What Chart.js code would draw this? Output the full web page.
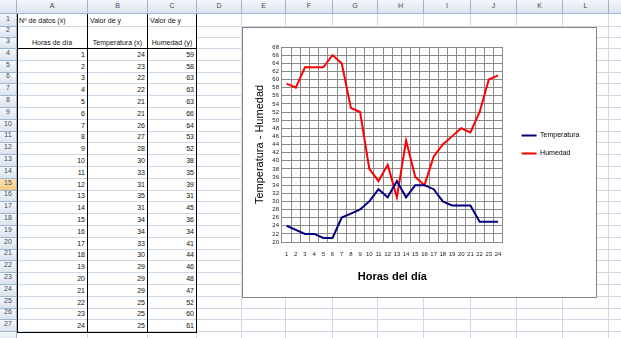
<!DOCTYPE html>
<html lang="es">
<head>
<meta charset="UTF-8">
<title>Temperatura - Humedad</title>
<script src="https://cdn.jsdelivr.net/npm/chart.js@4.4.0/dist/chart.umd.min.js"></script>
<style>
  body { margin: 0; background: #fff; font-family: "Liberation Sans", Arial, sans-serif; }
  #hoja { position: absolute; left: 0; top: 0; width: 621px; height: 338px; overflow: hidden; }
  .c { position: absolute; box-sizing: border-box; font-size: 7px; line-height: 8px; white-space: nowrap;
       border-right: 1px solid #d0d7e5; border-bottom: 1px solid #d0d7e5; color: #111; }
  .c span { position: absolute; bottom: 1px; }
  .h { background: linear-gradient(#f4f7fb, #dbe3ee); border-right: 1px solid #9eb6ce; border-bottom: 1px solid #9eb6ce;
       color: #3b4a5e; text-align: center; }
  .h span { left: 0; right: 0; bottom: 3px; }
  .sel { background: linear-gradient(#fbe2b0, #f6c983); }
  .negro { position: absolute; background: #000; }
  #grafico { position: absolute; left: 242px; top: 27px; width: 355px; height: 271px; box-sizing: border-box;
             border: 1px solid #868686; background: #fff; }
  #grafico canvas { display: block; }
</style>
</head>
<body>
<div id="hoja"></div>
<div id="grafico"><canvas id="lineas" width="353" height="269"></canvas></div>

<script>
  // datos de la tabla
  var horas = ["1","2","3","4","5","6","7","8","9","10","11","12","13","14","15","16","17","18","19","20","21","22","23","24"];
  var temperatura = [24,23,22,22,21,21,26,27,28,30,33,31,35,31,34,34,33,30,29,29,29,25,25,25];
  var humedad = [59,58,63,63,63,66,64,53,52,38,35,39,31,45,36,34,41,44,46,48,47,52,60,61];

  var fila1 = ["Nº de datos (x)", "Valor de y", "Valor de y"];
  var fila3 = ["Horas de día", "Temperatura (x)", "Humedad (y)"];
  var columnas = ["A","B","C","D","E","F","G","H","I","J","K","L","M"];

  // hoja de calculo
  var bordesX = [0,17,88,148,197,242,286,333,378,424,471,517,563,609,655];
  var bordesY = [0,14,27,38,49];
  for (var k = 1; k <= 25; k++) bordesY.push(49 + k * 11.8);

  var hoja = document.getElementById("hoja");

  function celda(x0, y0, x1, y1, clase, texto, alinear) {
    var d = document.createElement("div");
    d.className = "c " + clase;
    d.style.left = x0 + "px";
    d.style.top = y0 + "px";
    d.style.width = (x1 - x0) + "px";
    d.style.height = (y1 - y0) + "px";
    if (texto !== undefined && texto !== "") {
      var s = document.createElement("span");
      s.textContent = texto;
      if (alinear == "der") s.style.right = "2px";
      else if (alinear == "centro") { s.style.left = "-20px"; s.style.right = "-20px"; s.style.textAlign = "center"; }
      else s.style.left = "2px";
      d.appendChild(s);
    }
    hoja.appendChild(d);
    return d;
  }

  // encabezados de columna
  celda(0, 0, 17, 14, "h", "");
  for (var c = 0; c < columnas.length; c++) {
    celda(bordesX[c + 1], 0, bordesX[c + 2], 14, "h", columnas[c], "centro");
  }

  // filas
  for (var r = 1; r <= 28; r++) {
    var y0 = bordesY[r], y1 = bordesY[r + 1];
    celda(0, y0, 17, y1, "h" + (r == 15 ? " sel" : ""), r <= 27 ? String(r) : "", "centro");
    for (var c = 0; c < columnas.length; c++) {
      var texto = "", alinear = "izq";
      if (r == 1 && c < 3) texto = fila1[c];
      if (r == 3 && c < 3) { texto = fila3[c]; alinear = "centro"; }
      if (r >= 4 && r <= 27 && c < 3) {
        var i = r - 4;
        texto = [horas[i], temperatura[i], humedad[i]][c];
        alinear = "der";
      }
      var d = celda(bordesX[c + 1], y0, bordesX[c + 2], y1, "", texto, alinear);
      if (r == 2 && c < 3) d.style.borderBottom = "none";
    }
  }

  // bordes negros de la tabla
  function linea(x, y, w, h) {
    var d = document.createElement("div");
    d.className = "negro";
    d.style.left = x + "px"; d.style.top = y + "px";
    d.style.width = w + "px"; d.style.height = h + "px";
    hoja.appendChild(d);
  }
  [17, 87, 147, 196].forEach(function (x) { linea(x, 14, 1, 318.5); });
  linea(17, 48, 180, 1);
  linea(17, 331.5, 180, 1.2);

  // grafico
  var gris = "#8a8a8a";
  var fuente = "'Liberation Sans', Arial, sans-serif";
  var ctx = document.getElementById("lineas");
  var chart = new Chart(ctx, {
    type: "line",
    data: {
      labels: horas,
      datasets: [
        { label: "Temperatura", data: temperatura, borderColor: "#000080", backgroundColor: "#000080",
          borderWidth: 2, pointRadius: 0, tension: 0 },
        { label: "Humedad", data: humedad, borderColor: "#ff0000", backgroundColor: "#ff0000",
          borderWidth: 2, pointRadius: 0, tension: 0 }
      ]
    },
    options: {
      responsive: false,
      animation: false,
      devicePixelRatio: 1,
      layout: { padding: { top: 19, left: 4, right: 6.6, bottom: 9.4 } },
      plugins: {
        legend: {
          position: "right",
          fullSize: false,
          align: "center",
          maxWidth: 120,
          labels: {
            usePointStyle: true,
            pointStyle: "line",
            pointStyleWidth: 15,
            padding: 11,
            color: "#000",
            font: { family: fuente, size: 7 }
          }
        },
        tooltip: { enabled: false }
      },
      scales: {
        x: {
          type: "category",
          offset: true,
          grid: { offset: true, color: gris, drawTicks: false },
          border: { color: gris },
          ticks: { autoSkip: false, maxRotation: 0, padding: 9, color: "#222",
                   font: { family: fuente, size: 6 } },
          title: { display: true, text: "Horas del día", color: "#000",
                   font: { family: fuente, size: 11, weight: "bold" },
                   padding: { top: 3.2, bottom: 4 } }
        },
        y: {
          min: 20,
          max: 68,
          grid: { color: gris, drawTicks: false },
          border: { color: gris },
          ticks: { stepSize: 2, autoSkip: false, padding: 3, color: "#222",
                   font: { family: fuente, size: 6 } },
          title: { display: true, text: "Temperatura - Humedad", color: "#000",
                   font: { family: fuente, size: 11 },
                   padding: { top: 6.4, bottom: 2.7 } }
        },
        espacio: {
          position: "right",
          display: true,
          grid: { display: false },
          border: { display: false },
          ticks: { display: false },
          afterFit: function (s) { s.width = 8; }
        }
      }
    }
  });
</script>
</body>
</html>
